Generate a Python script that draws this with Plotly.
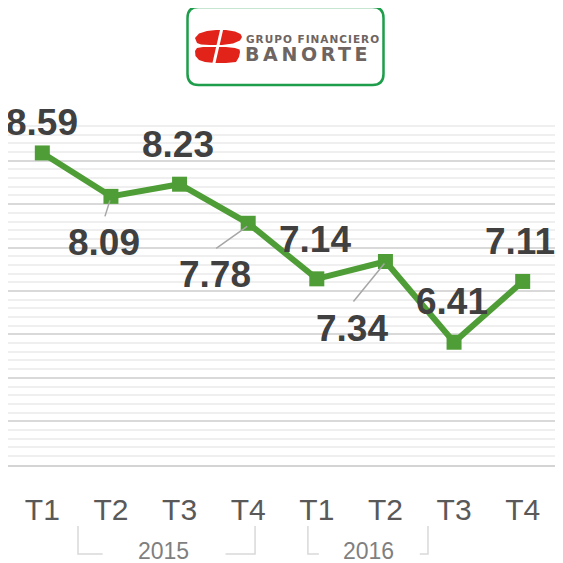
import plotly.graph_objects as go

# ---- data ----
quarters = ["T1", "T2", "T3", "T4", "T1", "T2", "T3", "T4"]
years = ["2015", "2016"]
values = [8.59, 8.09, 8.23, 7.78, 7.14, 7.34, 6.41, 7.11]
value_labels = ["8.59", "8.09", "8.23", "7.78", "7.14", "7.34", "6.41", "7.11"]

# ---- styling / placement (screen pixels) ----
OFF = 8                      # page body margin
W = H = 563 - OFF
SCR_L, SCR_R, SCR_T, SCR_B = 8, 557, 117, 465   # plot area on screen
ML = SCR_L - OFF
MT = SCR_T - OFF
MR = 563 - SCR_R
MB = (H + OFF) - SCR_B
PW = SCR_R - SCR_L
PH = SCR_B - SCR_T
GREEN = "#4F9D36"
LABEL_COLOR = "#404040"

# label offsets relative to each point (dx right, dy up) in px
label_offsets = [(0, 30), (-7, -46), (-2, 40), (-33, -51),
                 (-2, 39), (-33, -67), (-2, 41), (-3, 40)]
# leader lines (start offset, end offset) relative to point, px, y up
leaders = {1: ((-1, -4), (-6, -20)),
           3: ((-1, -3), (-32, -25)),
           5: ((-1, -2), (-32, -40))}


def px(x, y):
    """screen pixel -> paper coords"""
    return (x - SCR_L) / PW, (SCR_B - y) / PH


x_idx = list(range(len(quarters)))

fig = go.Figure()
fig.add_trace(go.Scatter(
    x=x_idx, y=values, mode="lines+markers",
    line=dict(color=GREEN, width=6),
    marker=dict(symbol="square", size=15, color=GREEN),
    hoverinfo="skip", cliponaxis=False,
))

annotations = []
for i, (v, t) in enumerate(zip(values, value_labels)):
    dx, dy = label_offsets[i]
    annotations.append(dict(
        x=i, y=v, xref="x", yref="y", text=t, showarrow=False,
        xshift=dx, yshift=dy, xanchor="center", yanchor="middle",
        font=dict(family="Liberation Sans, Arial, sans-serif", size=37,
                  color=LABEL_COLOR, weight="bold"),
    ))

shapes = []
for i, ((sx, sy), (ex, ey)) in leaders.items():
    shapes.append(dict(
        type="line", xref="x", yref="y", xsizemode="pixel", ysizemode="pixel",
        xanchor=i, yanchor=values[i], x0=sx, y0=sy, x1=ex, y1=ey,
        line=dict(color="#A6A6A6", width=1.5), layer="above",
    ))


def cat_paper(c):
    return (c + 0.5) / len(quarters)


BR_TOP, BR_BOT = 526, 554
brackets = [  # (vertical x cat, horizontal end cat)
    (0.52, 0.88), (3.10, 2.67),
    (3.87, 4.03), (5.62, 5.50),
]
for vx, hx in brackets:
    _, yt = px(0, BR_TOP)
    _, yb = px(0, BR_BOT)
    shapes.append(dict(type="path", xref="paper", yref="paper",
                       path=f"M {cat_paper(vx)} {yt} L {cat_paper(vx)} {yb} L {cat_paper(hx)} {yb}",
                       line=dict(color="#D9D9D9", width=1.5)))

year_pos = [1.77, 4.75]
for yr, c in zip(years, year_pos):
    _, yy = px(0, 551)
    annotations.append(dict(
        x=cat_paper(c), y=yy, xref="paper", yref="paper", text=yr,
        showarrow=False, xanchor="center", yanchor="middle",
        font=dict(family="Liberation Sans, Arial, sans-serif", size=23, color="#7F7F7F"),
    ))


# ---- logo ----
def rrect(x0, y0, x1, y1, r):
    a = px(x0 + r, y0); b = px(x1 - r, y0); c = px(x1, y0); d = px(x1, y0 + r)
    e = px(x1, y1 - r); f = px(x1, y1); g = px(x1 - r, y1); h = px(x0 + r, y1)
    i = px(x0, y1); j = px(x0, y1 - r); k = px(x0, y0 + r); l = px(x0, y0)
    return (f"M {a[0]} {a[1]} L {b[0]} {b[1]} Q {c[0]} {c[1]} {d[0]} {d[1]} "
            f"L {e[0]} {e[1]} Q {f[0]} {f[1]} {g[0]} {g[1]} L {h[0]} {h[1]} "
            f"Q {i[0]} {i[1]} {j[0]} {j[1]} L {k[0]} {k[1]} Q {l[0]} {l[1]} {a[0]} {a[1]} Z")


shapes.append(dict(type="path", xref="paper", yref="paper",
                   path=rrect(187.5, 7, 383.5, 85, 11),
                   line=dict(color="#1E9D4B", width=2.5), fillcolor="white"))


def poly(points):
    s = ""
    for n, (x, y) in enumerate(points):
        p = px(x, y)
        s += ("M " if n == 0 else "L ") + f"{p[0]} {p[1]} "
    return s + "Z"


RED = "#E2231A"
top_blob = [(195, 38), (199, 33.5), (207, 31), (216, 30), (226, 30), (235, 31.5),
            (240.5, 34), (242, 37), (240, 40.5), (233, 43.5), (222, 45), (210, 45),
            (201, 44.5), (197, 43)]
bot_blob = [(195, 51), (197, 48), (203, 47), (214, 47), (226, 47), (235, 48),
            (239.5, 49.5), (240, 52), (239, 57), (236, 62), (226, 63), (215, 63),
            (205, 62), (199, 60), (195.5, 56)]
shapes.append(dict(type="path", xref="paper", yref="paper", path=poly(top_blob),
                   fillcolor=RED, line=dict(width=0)))
shapes.append(dict(type="path", xref="paper", yref="paper", path=poly(bot_blob),
                   fillcolor=RED, line=dict(width=0)))
g0 = px(222, 28); g1 = px(213.5, 65)
shapes.append(dict(type="line", xref="paper", yref="paper",
                   x0=g0[0], y0=g0[1], x1=g1[0], y1=g1[1],
                   line=dict(color="white", width=3)))

t1 = px(245, 38.5)
annotations.append(dict(x=t1[0], y=t1[1], xref="paper", yref="paper",
                        text='<span style="letter-spacing:1px">GRUPO FINANCIERO</span>',
                        showarrow=False, xanchor="left", yanchor="middle",
                        borderpad=0, height=9,
                        font=dict(family="DejaVu Sans, sans-serif", size=10.5,
                                  color="#6E6461", weight="bold")))
t2 = px(244, 54)
annotations.append(dict(x=t2[0], y=t2[1], xref="paper", yref="paper",
                        text='<span style="letter-spacing:3.6px">BANORTE</span>',
                        showarrow=False, xanchor="left", yanchor="middle",
                        borderpad=0, height=14,
                        font=dict(family="DejaVu Sans, sans-serif", size=19,
                                  color="#6E6461", weight="bold")))

fig.update_layout(
    width=W, height=H, autosize=False,
    margin=dict(l=ML, r=MR, t=MT, b=MB, pad=0),
    paper_bgcolor="white", plot_bgcolor="white",
    showlegend=False,
    annotations=annotations, shapes=shapes,
    xaxis=dict(range=[-0.5, len(quarters) - 0.5], tickmode="array",
               tickvals=x_idx, ticktext=quarters, showgrid=False,
               zeroline=False, showline=True, linecolor="#D4D4D4", linewidth=2,
               ticks="", ticklabelstandoff=17,
               tickfont=dict(family="Liberation Sans Narrow, Arial Narrow, Liberation Sans, sans-serif",
                             size=30, color="#595959")),
    yaxis=dict(range=[4.996, 9.004], dtick=0.5, tick0=5, showticklabels=False,
               gridcolor="#D9D9D9", gridwidth=1.5, zeroline=False,
               showline=False, ticks="",
               minor=dict(dtick=0.1, tick0=5, showgrid=True,
                          gridcolor="#EFEFEF", gridwidth=1.5)),
)

fig.write_html("out.html")
